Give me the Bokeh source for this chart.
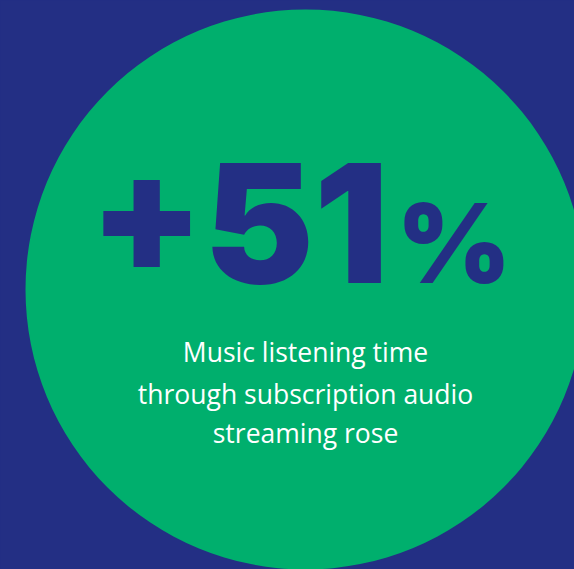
from bokeh.plotting import figure
from bokeh.models import Range1d, GlobalInlineStyleSheet
from bokeh.core.properties import value
from bokeh.embed import file_html
from bokeh.resources import INLINE

# ---- content ----
change_pct = 51
headline_number = f"+{change_pct}"
headline_unit = "%"
caption_lines = [
    "Music listening time",
    "through subscription audio",
    "streaming rose",
]

BLUE = "#232F84"
GREEN = "#00AF6D"

W, H = 574, 569
p = figure(width=W, height=H, output_backend="svg", toolbar_location=None,
           x_range=Range1d(0, W), y_range=Range1d(H, 0),
           min_border=0, outline_line_color=None,
           background_fill_color=BLUE, border_fill_color=BLUE)
p.axis.visible = False
p.grid.visible = False
p.stylesheets = [GlobalInlineStyleSheet(
    css="html, body { margin: 0; padding: 0; overflow: hidden; background-color: #232F84; }")]

# big circle
p.circle(x=[305], y=[289], radius=280, fill_color=GREEN, line_color=None)

# headline
p.text(x=[388], y=[222], text=[headline_number], text_align="right",
       text_baseline="alphabetic", text_font=value("Inter Black, Inter"), text_font_style="bold",
       text_font_size="165px", text_color=BLUE)
p.text(x=[396], y=[242], text=[headline_unit], text_align="left",
       text_baseline="alphabetic", text_font=value("Inter Black, Inter"), text_font_style="bold",
       text_font_size="110px", text_color=BLUE)

# caption
baselines = [351, 393, 432]
p.text(x=[305] * len(caption_lines), y=baselines, text=caption_lines,
       text_align="center", text_baseline="alphabetic",
       text_font=value("Open Sans"), text_font_size="26.5px", text_color="white")

open("out.html", "w").write(file_html(p, INLINE))
